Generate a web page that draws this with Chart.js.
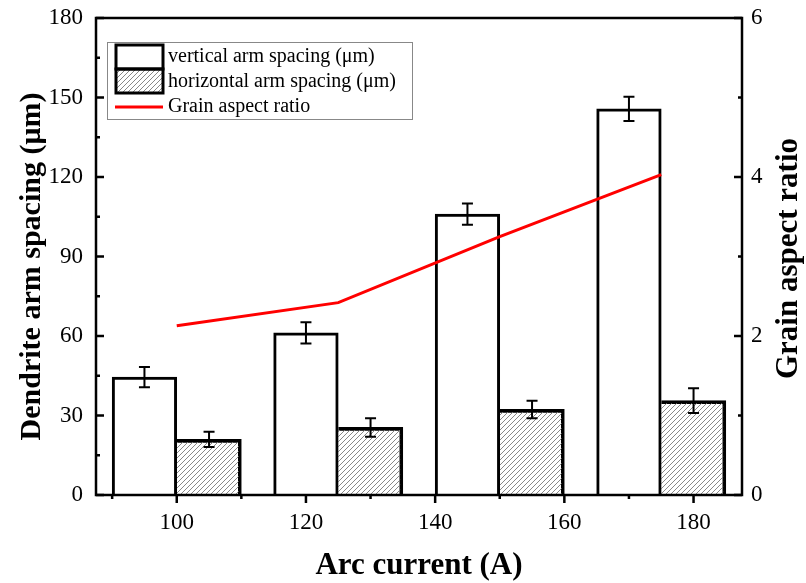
<!DOCTYPE html>
<html>
<head>
<meta charset="utf-8">
<script src="https://cdn.jsdelivr.net/npm/chart.js@4/dist/chart.umd.min.js"></script>
<style>
  html, body { margin: 0; padding: 0; background: #fff; }
  #wrap { width: 806px; height: 583px; }
</style>
</head>
<body>
<div id="wrap"><canvas id="chart" width="806" height="583"></canvas></div>
<script>
// values
const groupX = [100, 125, 150, 175];
const verticalSpacing = [44.5, 61.2, 106, 145.7];
const verticalErr = [3.8, 4.0, 4.0, 4.6];
const horizontalSpacing = [21.0, 25.5, 32.3, 35.6];
const horizontalErr = [2.9, 3.5, 3.3, 4.7];
const aspectRatio = [2.13, 2.42, 3.25, 4.03];

const xTicks = [100, 120, 140, 160, 180];
const xMinor = [90, 110, 130, 150, 170];
const leftTicks = [0, 30, 60, 90, 120, 150, 180];
const leftMinor = [15, 45, 75, 105, 135, 165];
const rightTicks = [0, 2, 4, 6];
const rightMinor = [1, 3, 5];

const SERIF = '"Liberation Serif", "Times New Roman", serif';

const canvas = document.getElementById('chart');
const ctx = canvas.getContext('2d');

// diagonal hatch for the horizontal spacing bars
function makeHatch(){
  const c = document.createElement('canvas');
  c.width = 5; c.height = 5;
  const g = c.getContext('2d');
  g.strokeStyle = '#7a7a7a';
  g.lineWidth = 0.9;
  g.beginPath();
  g.moveTo(0, 5); g.lineTo(5, 0);
  g.moveTo(-2.5, 2.5); g.lineTo(2.5, -2.5);
  g.moveTo(2.5, 7.5); g.lineTo(7.5, 2.5);
  g.stroke();
  return ctx.createPattern(c, 'repeat');
}
const hatch = makeHatch();

const errors = [verticalErr, horizontalErr];

// error bars on top of the bars
const errorBarPlugin = {
  id: 'errorBars',
  afterDatasetsDraw(chart){
    const c = chart.ctx, y = chart.scales.y;
    c.save();
    c.strokeStyle = '#000';
    c.lineWidth = 2;
    [0, 1].forEach(di => {
      const meta = chart.getDatasetMeta(di);
      meta.data.forEach((bar, i) => {
        const v = chart.data.datasets[di].data[i].y;
        const e = errors[di][i];
        const top = y.getPixelForValue(v + e), bot = y.getPixelForValue(v - e);
        c.beginPath();
        c.moveTo(bar.x, top); c.lineTo(bar.x, bot);
        c.moveTo(bar.x - 5.5, top); c.lineTo(bar.x + 5.5, top);
        c.moveTo(bar.x - 5.5, bot); c.lineTo(bar.x + 5.5, bot);
        c.stroke();
      });
    });
    c.restore();
  }
};

// frame, inward/outward ticks, titles and legend box
const framePlugin = {
  id: 'frame',
  afterDraw(chart){
    const c = chart.ctx, a = chart.chartArea;
    const sx = chart.scales.x, sy = chart.scales.y, sy1 = chart.scales.y1;
    c.save();
    c.strokeStyle = '#000';
    c.lineWidth = 2.5;
    c.strokeRect(a.left, a.top, a.right - a.left, a.bottom - a.top);

    c.beginPath();
    xTicks.forEach(v => { const p = sx.getPixelForValue(v); c.moveTo(p, a.bottom); c.lineTo(p, a.bottom + 8); });
    xMinor.forEach(v => { const p = sx.getPixelForValue(v); c.moveTo(p, a.bottom); c.lineTo(p, a.bottom + 4); });
    leftTicks.forEach(v => { const p = sy.getPixelForValue(v); c.moveTo(a.left, p); c.lineTo(a.left + 8, p); });
    leftMinor.forEach(v => { const p = sy.getPixelForValue(v); c.moveTo(a.left, p); c.lineTo(a.left + 4, p); });
    rightTicks.forEach(v => { const p = sy1.getPixelForValue(v); c.moveTo(a.right, p); c.lineTo(a.right - 8, p); });
    rightMinor.forEach(v => { const p = sy1.getPixelForValue(v); c.moveTo(a.right, p); c.lineTo(a.right - 4, p); });
    c.stroke();

    // axis titles
    c.fillStyle = '#000';
    c.font = 'bold 31px ' + SERIF;
    c.textAlign = 'center';
    c.textBaseline = 'alphabetic';
    c.fillText('Arc current (A)', (a.left + a.right) / 2, 574);
    const midY = (a.top + a.bottom) / 2;
    c.font = 'bold 30px ' + SERIF;
    c.save();
    c.translate(40, midY + 10);
    c.rotate(-Math.PI / 2);
    c.fillText('Dendrite arm spacing (\u03bcm)', 0, 0);
    c.restore();
    c.font = 'bold 31px ' + SERIF;
    c.save();
    c.translate(797, midY + 2);
    c.rotate(-Math.PI / 2);
    c.fillText('Grain aspect ratio', 0, 0);
    c.restore();

    // legend
    const lx = a.left + 11, ly = a.top + 24, lw = 305, lh = 77;
    c.lineWidth = 1;
    c.strokeStyle = '#888';
    c.strokeRect(lx + 0.5, ly + 0.5, lw, lh);
    const ds = chart.data.datasets;
    const sw = 47, sh = 24, sxl = lx + 9;
    c.fillStyle = '#fff';
    c.fillRect(sxl, ly + 3, sw, sh);
    c.fillStyle = hatch;
    c.fillRect(sxl, ly + 3 + sh, sw, sh);
    c.strokeStyle = '#000';
    c.lineWidth = 3;
    c.strokeRect(sxl, ly + 3, sw, sh);
    c.strokeRect(sxl, ly + 3 + sh, sw, sh);
    c.strokeStyle = ds[2].borderColor;
    c.beginPath();
    c.moveTo(sxl - 1, ly + 65); c.lineTo(sxl + sw, ly + 65);
    c.stroke();
    c.fillStyle = '#000';
    c.font = '20px ' + SERIF;
    c.textAlign = 'left';
    c.textBaseline = 'middle';
    c.fillText(ds[0].label, sxl + sw + 5, ly + 15);
    c.fillText(ds[1].label, sxl + sw + 5, ly + 40);
    c.fillText(ds[2].label, sxl + sw + 5, ly + 65);
    c.restore();
  }
};

new Chart(ctx, {
  type: 'bar',
  data: {
    datasets: [
      {
        label: 'vertical arm spacing (\u03bcm)',
        data: groupX.map((x, i) => ({ x, y: verticalSpacing[i] })),
        backgroundColor: '#fff',
        borderColor: '#000',
        borderWidth: { top: 3, left: 3, right: 3, bottom: 0 },
        borderSkipped: false,
        categoryPercentage: 1.0,
        barPercentage: 1.0,
        yAxisID: 'y',
        order: 2
      },
      {
        label: 'horizontal arm spacing (\u03bcm)',
        data: groupX.map((x, i) => ({ x, y: horizontalSpacing[i] })),
        backgroundColor: hatch,
        borderColor: '#000',
        borderWidth: { top: 3, left: 0, right: 3, bottom: 0 },
        borderSkipped: false,
        categoryPercentage: 1.0,
        barPercentage: 1.0,
        yAxisID: 'y',
        order: 2
      },
      {
        type: 'line',
        label: 'Grain aspect ratio',
        data: groupX.map((x, i) => ({ x, y: aspectRatio[i] })),
        borderColor: '#ff0000',
        borderWidth: 3,
        pointRadius: 0,
        fill: false,
        tension: 0,
        yAxisID: 'y1',
        order: 1
      }
    ]
  },
  options: {
    responsive: false,
    animation: false,
    layout: { padding: { top: 18, left: 0, right: 0, bottom: 0 } },
    plugins: { legend: { display: false }, tooltip: { enabled: false } },
    scales: {
      x: {
        type: 'linear',
        min: 87.5,
        max: 187.5,
        offset: false,
        grid: { display: false, drawTicks: false },
        border: { display: false },
        afterBuildTicks: s => { s.ticks = xTicks.map(v => ({ value: v })); },
        afterFit: s => { s.height = 88; s.paddingLeft = 0; s.paddingRight = 0; },
        ticks: { padding: 14, color: '#000', font: { family: SERIF, size: 23 } }
      },
      y: {
        position: 'left',
        min: 0,
        max: 180,
        grid: { display: false, drawTicks: false },
        border: { display: false },
        afterBuildTicks: s => { s.ticks = leftTicks.map(v => ({ value: v })); },
        afterFit: s => { s.width = 96; s.paddingTop = 0; s.paddingBottom = 0; },
        ticks: { padding: 13, color: '#000', font: { family: SERIF, size: 23 } }
      },
      y1: {
        position: 'right',
        min: 0,
        max: 6,
        grid: { display: false, drawTicks: false },
        border: { display: false },
        afterBuildTicks: s => { s.ticks = rightTicks.map(v => ({ value: v })); },
        afterFit: s => { s.width = 64; s.paddingTop = 0; s.paddingBottom = 0; },
        ticks: { padding: 9, color: '#000', font: { family: SERIF, size: 23 } }
      }
    }
  },
  plugins: [errorBarPlugin, framePlugin]
});
</script>
</body>
</html>
